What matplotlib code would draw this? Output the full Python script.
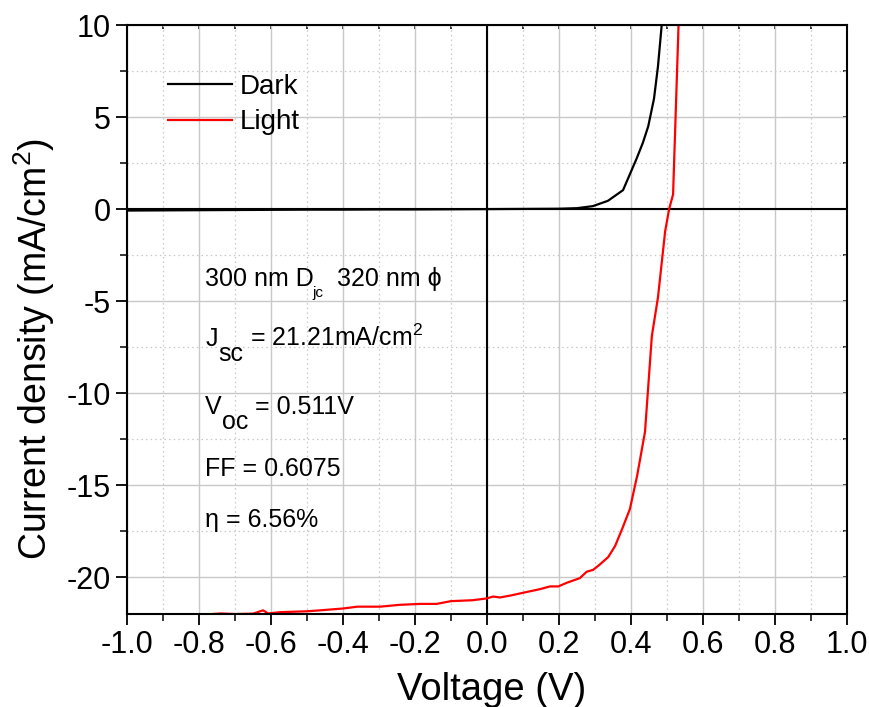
import numpy as np
import matplotlib
matplotlib.use("Agg")
import matplotlib.pyplot as plt
from matplotlib.ticker import MultipleLocator, NullFormatter
from matplotlib.transforms import offset_copy

plt.rcParams['font.family'] = ['Liberation Sans', 'DejaVu Sans']
plt.rcParams['mathtext.fontset'] = 'custom'
plt.rcParams['mathtext.rm'] = 'Liberation Sans'
plt.rcParams['mathtext.it'] = 'Liberation Sans'
plt.rcParams['axes.unicode_minus'] = False

# dark J-V curve
dark_v = [-1.0, -0.9, -0.8, -0.7, -0.6, -0.5, -0.4, -0.3, -0.2, -0.1, 0.0,
          0.1, 0.2, 0.25, 0.294, 0.336, 0.378, 0.416, 0.433, 0.448, 0.464, 0.475, 0.49]
dark_j = [-0.08, -0.07, -0.06, -0.05, -0.04, -0.03, -0.03, -0.02, -0.02, -0.01, 0.0,
          0.01, 0.02, 0.05, 0.16, 0.45, 1.03, 2.76, 3.6, 4.5, 6.0, 7.75, 11.0]

# illuminated J-V curve
light_v = [-1.0, -0.9, -0.8, -0.74, -0.7, -0.65, -0.622, -0.608, -0.575, -0.5, -0.464,
           -0.4, -0.36, -0.297, -0.242, -0.186, -0.14, -0.1, -0.04, -0.02, 0.0,
           0.017, 0.036, 0.064, 0.111, 0.147, 0.175, 0.198, 0.222, 0.258, 0.277,
           0.295, 0.314, 0.337, 0.356, 0.375, 0.397, 0.417, 0.439, 0.458, 0.475,
           0.495, 0.506, 0.517, 0.533]
light_j = [-22.4, -22.3, -22.05, -21.97, -22.0, -21.98, -21.8, -21.97, -21.9, -21.85, -21.8,
           -21.7, -21.6, -21.6, -21.5, -21.45, -21.45, -21.3, -21.25, -21.2, -21.15,
           -21.05, -21.1, -21.0, -20.8, -20.65, -20.5, -20.5, -20.3, -20.05, -19.7,
           -19.6, -19.3, -18.9, -18.3, -17.4, -16.3, -14.5, -12.1, -6.9, -4.8,
           -1.2, 0.0, 0.8, 10.5]

fig = plt.figure(figsize=(8.7, 7.07), dpi=100)
ax = fig.add_axes([0.146, 0.1315, 0.8275, 0.8331])

ax.plot(dark_v, dark_j, color='black', lw=1.6, label='Dark')
ax.plot(light_v, light_j, color='red', lw=1.6, label='Light')

ax.axhline(0, color='black', lw=1.5, zorder=1.5)
ax.axvline(0, color='black', lw=1.5, zorder=1.5)

ax.set_xlim(-1, 1)
ax.set_ylim(-22, 10)
ax.xaxis.set_minor_locator(MultipleLocator(0.1))
ax.yaxis.set_major_locator(MultipleLocator(5))
ax.yaxis.set_minor_locator(MultipleLocator(2.5))
xt = np.round(np.arange(-1.0, 1.01, 0.2), 1)
ax.set_xticks(xt)
ax.set_xticklabels(['%.1f' % (v + 0.0) for v in xt])

ax.grid(which='major', color='#c8c8c8', lw=1.0)
ax.grid(which='minor', color='#c8c8c8', lw=0.9, ls=(0, (1.2, 2.5)))
ax.set_axisbelow(True)

ax.tick_params(which='major', direction='out', length=8, width=1.3, labelsize=22,
               top=False, right=False)
ax.tick_params(which='minor', direction='out', length=5, width=1.1,
               top=False, right=False)
for s in ax.spines.values():
    s.set_linewidth(1.5)

# small inward ticks on the top and right edges
for sec in (ax.secondary_xaxis('top'), ax.secondary_yaxis('right')):
    sec.tick_params(which='both', direction='in', length=3, width=1.1)
    sec.spines[:].set_visible(False)
for child in ax.child_axes:
    child.xaxis.set_major_formatter(NullFormatter())
    child.yaxis.set_major_formatter(NullFormatter())
    child.xaxis.set_minor_locator(MultipleLocator(0.1))
    child.yaxis.set_minor_locator(MultipleLocator(2.5))
    child.yaxis.set_major_locator(MultipleLocator(5))
    child.xaxis.set_major_locator(MultipleLocator(0.2))

ax.set_xlabel('Voltage (V)', fontsize=27.5)
ax.xaxis.set_label_coords(0.507, -0.098)
ax.set_ylabel('Current density (mA/cm$^2$)', fontsize=27)
ax.yaxis.set_label_coords(-0.097, 0.45)

ax.legend(loc='upper left', bbox_to_anchor=(0.022, 0.96), frameon=False,
          fontsize=20, handlelength=2.3, handletextpad=0.3, labelspacing=0.35)


# annotation block: main text, then lowered subscripts placed by offsets (points)
def piece(x, y, s, dx=0, dy=0, size=18):
    tr = offset_copy(ax.transData, fig=fig, x=dx, y=dy, units='points')
    ax.text(x, y, s, transform=tr, fontsize=size, va='baseline', ha='left')


x0 = -0.783
piece(x0, -4.18, '300 nm D')
piece(x0, -4.18, 'jc', dx=77, dy=-8, size=11)
piece(x0, -4.18, '320 nm ϕ', dx=95)
piece(x0, -7.45, 'J')
piece(x0, -7.45, 'sc', dx=9.4, dy=-10.8)
piece(x0, -7.45, '= 21.21mA/cm$^{2}$', dx=32.4)
piece(x0, -11.14, 'V')
piece(x0, -11.14, 'oc', dx=12.2, dy=-10.8)
piece(x0, -11.14, '= 0.511V', dx=36)
piece(x0, -14.5, 'FF = 0.6075')
piece(x0, -17.28, 'η = 6.56%')

fig.savefig('out.png', dpi=100)
